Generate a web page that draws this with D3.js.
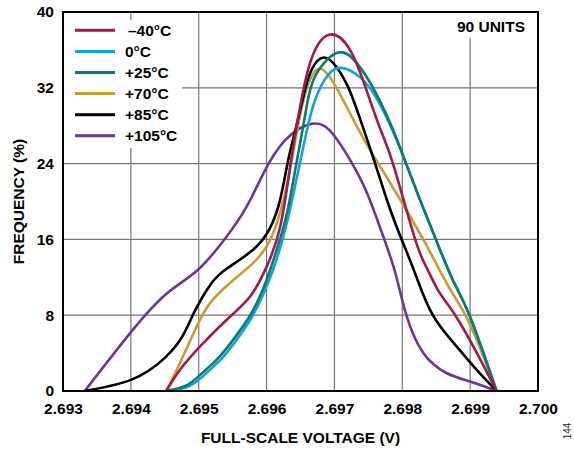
<!DOCTYPE html>
<html>
<head>
<meta charset="utf-8">
<script src="https://cdn.jsdelivr.net/npm/d3@7"></script>
<style>
    body { margin: 0; background: #fff; }
    text { font-family: "Liberation Sans", Arial, sans-serif; }
</style>
</head>
<body>
<svg id="chart" width="574" height="449"></svg>
<script>
// tick values
var xTicks = [2.693, 2.694, 2.695, 2.696, 2.697, 2.698, 2.699, 2.700];
var yTicks = [0, 8, 16, 24, 32, 40];

// series labels, same order as the legend
var seriesNames = ["\u201340\u00B0C", "0\u00B0C", "+25\u00B0C", "+70\u00B0C", "+85\u00B0C", "+105\u00B0C"];
var seriesColors = ["#a3194b", "#0ea5db", "#0b7a72", "#c99b33", "#000000", "#6e3591"];

// [voltage, frequency %]
var minus40 = [[2.69452, 0], [2.69472, 2.2], [2.69502, 4.7], [2.69541, 7.5], [2.69576, 10.0], [2.69600, 13.1],
    [2.69620, 17.3], [2.69635, 23.8], [2.69646, 28.6], [2.69664, 34.6], [2.69692, 37.6], [2.69723, 36.0],
    [2.69748, 31.6], [2.69770, 27.2], [2.69788, 23.6], [2.69819, 16.0], [2.69836, 13.0], [2.69853, 10.6],
    [2.69878, 8.0], [2.69910, 4.0], [2.69939, 0]];

var zero = [[2.69458, 0], [2.69482, 0.4], [2.69502, 1.3], [2.69522, 2.6], [2.69541, 4.0], [2.69566, 6.4],
    [2.69580, 8.0], [2.69595, 10.2], [2.69612, 13.3], [2.69625, 16.4], [2.69635, 19.3], [2.69649, 24.0],
    [2.69661, 28.0], [2.69673, 31.0], [2.69690, 33.3], [2.69710, 34.1], [2.69738, 33.1], [2.69762, 30.9],
    [2.69785, 27.6], [2.69804, 24.3], [2.69826, 20.2], [2.69850, 15.9], [2.69874, 11.8], [2.69900, 7.8],
    [2.69939, 0]];

var plus25 = [[2.69452, 0], [2.69482, 0.6], [2.69502, 1.7], [2.69522, 3.0], [2.69541, 4.5], [2.69566, 6.9],
    [2.69580, 8.5], [2.69595, 10.8], [2.69610, 13.8], [2.69625, 17.3], [2.69635, 20.5], [2.69648, 25.6],
    [2.69659, 30.0], [2.69672, 33.3], [2.69704, 35.7], [2.69733, 34.6], [2.69760, 31.6], [2.69785, 27.8],
    [2.69804, 24.3], [2.69826, 20.2], [2.69850, 15.9], [2.69874, 11.8], [2.69900, 7.8], [2.69939, 0]];

var plus70 = [[2.69452, 0], [2.69472, 2.9], [2.69497, 6.8], [2.69517, 9.3], [2.69546, 11.4], [2.69580, 13.5],
    [2.69605, 15.9], [2.69625, 20.2], [2.69640, 25.5], [2.69652, 30.0], [2.69665, 33.0], [2.69680, 34.0],
    [2.69703, 32.0], [2.69740, 27.0], [2.69775, 22.8], [2.69810, 18.6], [2.69840, 14.8], [2.69870, 10.8],
    [2.69900, 7.0], [2.69939, 0]];

var plus85 = [[2.69332, 0], [2.69401, 1.2], [2.69450, 3.5], [2.69477, 5.9], [2.69494, 8.4], [2.69517, 11.2],
    [2.69541, 12.9], [2.69580, 14.9], [2.69605, 17.2], [2.69620, 20.2], [2.69632, 24.4], [2.69644, 28.0],
    [2.69656, 31.6], [2.69667, 34.0], [2.69684, 35.2], [2.69703, 34.2], [2.69720, 32.1], [2.69735, 29.3],
    [2.69760, 24.0], [2.69780, 19.6], [2.69799, 16.0], [2.69820, 12.2], [2.69845, 8.0], [2.69880, 4.7],
    [2.69910, 2.2], [2.69939, 0]];

var plus105 = [[2.69332, 0], [2.69401, 6.3], [2.69453, 10.3], [2.69499, 12.8], [2.69539, 16.1], [2.69571, 19.5],
    [2.69603, 24.0], [2.69635, 27.0], [2.69667, 28.2], [2.69693, 27.5], [2.69723, 24.4], [2.69748, 20.9],
    [2.69772, 16.3], [2.69790, 12.4], [2.69806, 8.0], [2.69831, 4.0], [2.69865, 1.9], [2.69900, 1.0],
    [2.69939, 0]];

var seriesData = [minus40, zero, plus25, plus70, plus85, plus105];

var margin = {left: 63, right: 36, top: 12, bottom: 58};
var width = 574 - margin.left - margin.right;
var height = 449 - margin.top - margin.bottom;

var svg = d3.select("#chart");
var g = svg.append("g").attr("transform", "translate(" + margin.left + "," + margin.top + ")");

var x = d3.scaleLinear().domain([2.693, 2.700]).range([0, width]);
var y = d3.scaleLinear().domain([0, 40]).range([height, 0]);

svg.append("defs").append("clipPath")
    .attr("id", "plotClip")
    .append("rect")
    .attr("x", 0).attr("y", -5)
    .attr("width", width).attr("height", height + 5);

function drawGrid() {
    g.append("g")
        .selectAll("line")
        .data(xTicks.slice(1, -1))
        .enter().append("line")
        .attr("x1", function(d) { return x(d); })
        .attr("x2", function(d) { return x(d); })
        .attr("y1", 0)
        .attr("y2", height)
        .attr("stroke", "#777")
        .attr("stroke-width", 1.2);

    g.append("g")
        .selectAll("line")
        .data(yTicks.slice(1, -1))
        .enter().append("line")
        .attr("x1", 0)
        .attr("x2", width)
        .attr("y1", function(d) { return y(d); })
        .attr("y2", function(d) { return y(d); })
        .attr("stroke", "#777")
        .attr("stroke-width", 1.2);
}

function drawAxes() {
    var xAxis = d3.axisBottom(x).tickValues(xTicks).tickSize(0).tickPadding(12)
        .tickFormat(d3.format(".3f"));
    var yAxis = d3.axisLeft(y).tickValues(yTicks).tickSize(0).tickPadding(9);

    var xg = g.append("g").attr("transform", "translate(0," + height + ")").call(xAxis);
    var yg = g.append("g").call(yAxis);
    [xg, yg].forEach(function(a) {
        a.select(".domain").remove();
        a.selectAll("text")
            .attr("font-family", "Liberation Sans, Arial, sans-serif")
            .attr("font-size", 15.5)
            .attr("font-weight", "bold")
            .attr("fill", "#000");
    });

    svg.append("text")
        .text("FULL-SCALE VOLTAGE (V)")
        .attr("x", margin.left + width / 2)
        .attr("y", 443)
        .attr("text-anchor", "middle")
        .attr("font-size", 15.5)
        .attr("font-weight", "bold");

    svg.append("text")
        .text("FREQUENCY (%)")
        .attr("transform", "translate(24," + (margin.top + height / 2) + ") rotate(-90)")
        .attr("text-anchor", "middle")
        .attr("font-size", 15.5)
        .attr("font-weight", "bold");

    svg.append("text")
        .text("144")
        .attr("transform", "translate(571,431) rotate(-90)")
        .attr("text-anchor", "middle")
        .attr("font-size", 10)
        .attr("fill", "#333");
}

function drawLegend() {
    // white boxes hide the grid behind legend and note
    g.append("rect")
        .attr("x", 1).attr("y", 8)
        .attr("width", 118).attr("height", 128)
        .attr("fill", "#fff");
    g.append("rect")
        .attr("x", 390).attr("y", 1)
        .attr("width", width - 391).attr("height", 25)
        .attr("fill", "#fff");

    var rows = g.append("g")
        .selectAll("g")
        .data(seriesNames)
        .enter().append("g")
        .attr("transform", function(d, i) { return "translate(12," + (18.3 + i * 21.1) + ")"; });

    rows.append("line")
        .attr("x1", 0).attr("x2", 40)
        .attr("stroke", function(d, i) { return seriesColors[i]; })
        .attr("stroke-width", 3);

    rows.append("text")
        .text(function(d) { return d; })
        .attr("x", function(d, i) { return i == 0 ? 53 : 50; })
        .attr("y", 5.5)
        .attr("font-size", 15.5)
        .attr("font-weight", "bold");

    g.append("text")
        .text("90 UNITS")
        .attr("x", width - 13)
        .attr("y", 20)
        .attr("text-anchor", "end")
        .attr("font-size", 15.5)
        .attr("font-weight", "bold");
}

function drawCurves() {
    var line = d3.line()
        .x(function(d) { return x(d[0]); })
        .y(function(d) { return y(d[1]); })
        .curve(d3.curveNatural);

    var curves = g.append("g").attr("clip-path", "url(#plotClip)");

    // draw back to front so the red one sits on top like in the original
    var order = [5, 3, 4, 1, 2, 0];
    order.forEach(function(i) {
        curves.append("path")
            .datum(seriesData[i])
            .attr("d", line)
            .attr("fill", "none")
            .attr("stroke", seriesColors[i])
            .attr("stroke-width", 2.6);
    });
}

drawGrid();
drawCurves();
drawLegend();
drawAxes();

g.append("rect")
    .attr("x", 0).attr("y", 0)
    .attr("width", width).attr("height", height)
    .attr("fill", "none")
    .attr("stroke", "#000")
    .attr("stroke-width", 2);
</script>
</body>
</html>
